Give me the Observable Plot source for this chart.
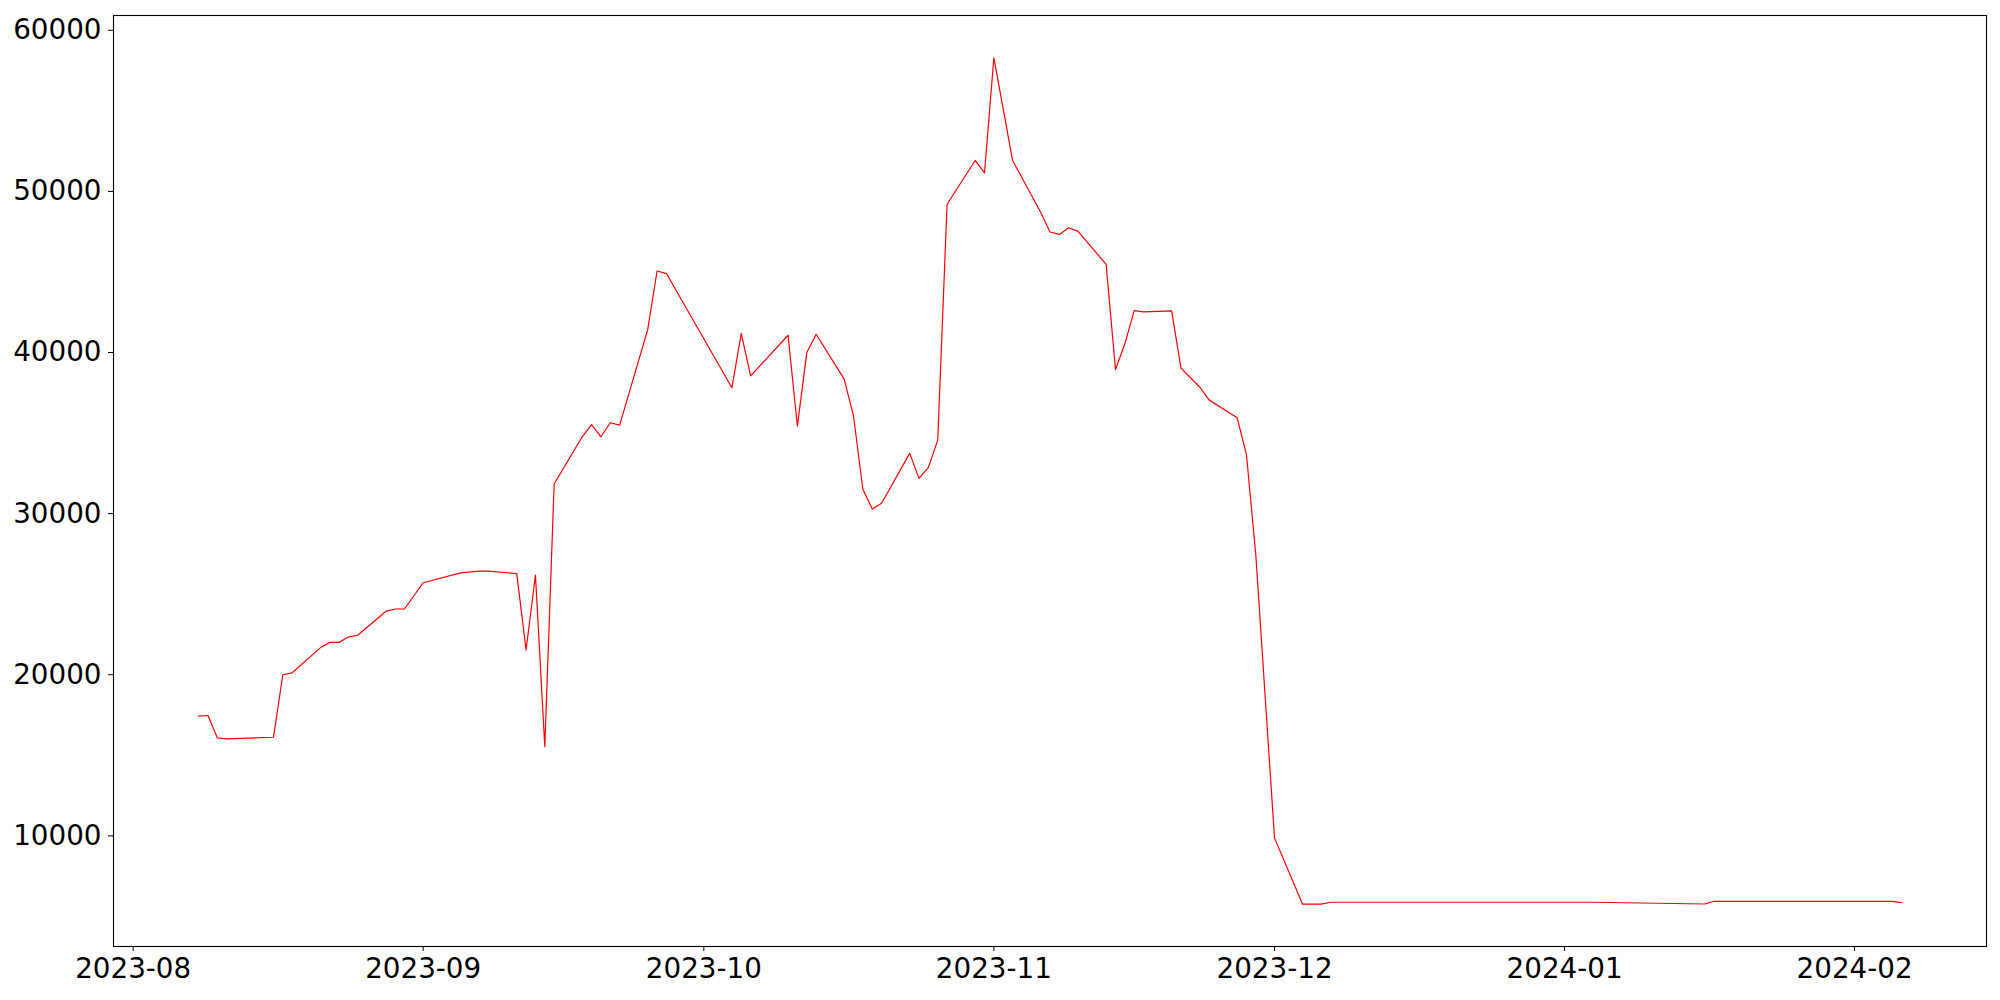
<!DOCTYPE html>
<html>
<head>
<meta charset="utf-8">
<script src="https://cdn.jsdelivr.net/npm/d3@7"></script>
<script src="https://cdn.jsdelivr.net/npm/@observablehq/plot@0.6"></script>
<style>
  html, body { margin: 0; padding: 0; background: #ffffff; }
  #chart { width: 2000px; height: 1000px; }
</style>
</head>
<body>
<div id="chart"></div>
<script>
const dates = [
  "2023-08-08","2023-08-09","2023-08-10","2023-08-11","2023-08-16","2023-08-17","2023-08-18",
  "2023-08-21","2023-08-22","2023-08-23","2023-08-24","2023-08-25","2023-08-28","2023-08-29",
  "2023-08-30","2023-09-01","2023-09-05","2023-09-07","2023-09-08","2023-09-11","2023-09-12",
  "2023-09-13","2023-09-14","2023-09-15","2023-09-18","2023-09-19","2023-09-20","2023-09-21",
  "2023-09-22","2023-09-25","2023-09-26","2023-09-27","2023-10-04","2023-10-05","2023-10-06",
  "2023-10-10","2023-10-11","2023-10-12","2023-10-13","2023-10-16","2023-10-17","2023-10-18",
  "2023-10-19","2023-10-20","2023-10-23","2023-10-24","2023-10-25","2023-10-26","2023-10-27",
  "2023-10-30","2023-10-31","2023-11-01","2023-11-03","2023-11-06","2023-11-07","2023-11-08",
  "2023-11-09","2023-11-10","2023-11-13","2023-11-14","2023-11-15","2023-11-16","2023-11-17",
  "2023-11-20","2023-11-21","2023-11-23","2023-11-24","2023-11-27","2023-11-28","2023-11-29",
  "2023-12-01","2023-12-04","2023-12-06","2023-12-07","2024-01-04","2024-01-16","2024-01-17",
  "2024-02-05","2024-02-06"
];
const values = [
  17430, 17470, 16080, 16020, 16120, 20000, 20120,
  21670, 22010, 22010, 22340, 22450, 23930, 24080,
  24080, 25710, 26320, 26430, 26430, 26280, 21540,
  26190, 15540, 31840, 34770, 35530, 34770, 35640,
  35490, 41420, 45060, 44900, 37810, 41180, 38550,
  41070, 35430, 39980, 41130, 38350, 36050, 31510,
  30290, 30640, 33740, 32190, 32870, 34560, 49200,
  51920, 51150, 58290, 51920, 48700, 47480, 47330,
  47740, 47520, 45470, 38950, 40540, 42600, 42520,
  42580, 39030, 37860, 37060, 35950, 33650, 27420,
  9860, 5760, 5760, 5880, 5880, 5770, 5940,
  5940, 5860
];
const xTickLabels = ["2023-08","2023-09","2023-10","2023-11","2023-12","2024-01","2024-02"];
const yTickValues = [10000, 20000, 30000, 40000, 50000, 60000];

const parse = d3.utcParse("%Y-%m-%d");
const parseMonth = d3.utcParse("%Y-%m");
const data = dates.map((d, i) => ({date: parse(d), value: values[i]}));
const xTicks = xTickLabels.map(parseMonth);

// matplotlib-like 5% margins around the data
const xMin = d3.min(data, d => d.date), xMax = d3.max(data, d => d.date);
const xPad = (xMax - xMin) * 0.05;
const yMin = d3.min(values), yMax = d3.max(values);
const yPad = (yMax - yMin) * 0.05;

const FS = 27.78;
const chart = Plot.plot({
  width: 2000,
  height: 1000,
  marginLeft: 113,
  marginRight: 14,
  marginTop: 15,
  marginBottom: 54,
  style: {
    fontFamily: "'DejaVu Sans', sans-serif",
    fontSize: FS + "px",
    background: "#ffffff",
    color: "#000000",
    overflow: "visible"
  },
  x: {type: "utc", domain: [new Date(+xMin - xPad), new Date(+xMax + xPad)]},
  y: {domain: [yMin - yPad, yMax + yPad]},
  marks: [
    Plot.axisX({
      ticks: xTicks,
      tickFormat: d3.utcFormat("%Y-%m"),
      tickSize: 5,
      tickPadding: 7,
      fontSize: FS,
      label: null,
      stroke: "#000000",
      strokeOpacity: 1
    }),
    Plot.axisY({
      ticks: yTickValues,
      tickFormat: d => String(d),
      tickSize: 5,
      tickPadding: 7,
      fontSize: FS,
      label: null,
      stroke: "#000000",
      strokeOpacity: 1
    }),
    Plot.line(data, {x: "date", y: "value", stroke: "#ff0000", strokeWidth: 1.2}),
    Plot.frame({stroke: "#000000", strokeWidth: 1.1})
  ]
});
document.getElementById("chart").appendChild(chart);
</script>
</body>
</html>
